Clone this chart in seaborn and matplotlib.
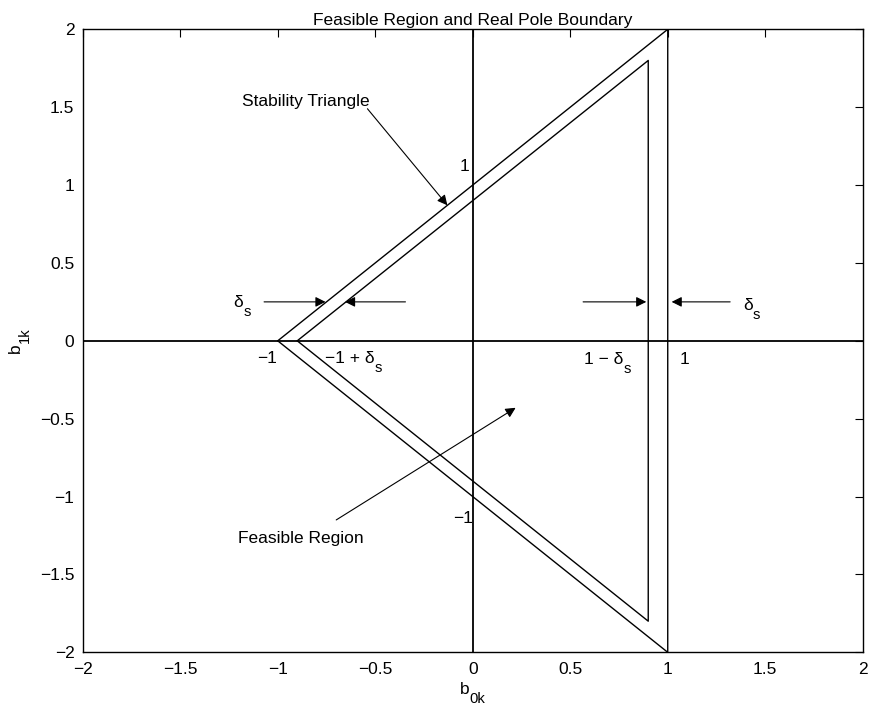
import numpy as np
import pandas as pd
import matplotlib
matplotlib.use("Agg")
import matplotlib.pyplot as plt
from matplotlib.transforms import offset_copy
import seaborn as sns

# Boundary geometry
delta_s = 0.1
outer_b0 = [-1.0, 1.0, 1.0, -1.0]
outer_b1 = [0.0, 2.0, -2.0, 0.0]
inner_b0 = [-1.0 + delta_s, 1.0 - delta_s, 1.0 - delta_s, -1.0 + delta_s]
inner_b1 = [0.0, 2.0 - 2 * delta_s, -2.0 + 2 * delta_s, 0.0]

tick_values = [-2, -1.5, -1, -0.5, 0, 0.5, 1, 1.5, 2]
tick_labels = ["\u22122", "\u22121.5", "\u22121", "\u22120.5", "0", "0.5", "1", "1.5", "2"]

sns.set_style("white")
plt.rcParams["font.family"] = ["Liberation Sans", "DejaVu Sans"]
plt.rcParams["text.color"] = "black"
plt.rcParams["axes.labelcolor"] = "black"
plt.rcParams["xtick.color"] = "black"
plt.rcParams["ytick.color"] = "black"

DPI = 100
FS = 12.5
SUB_FS = FS * 0.85
SUB_DROP = 6.5  # points

fig = plt.figure(figsize=(8.69, 7.13), dpi=DPI)
ax = fig.add_axes([0.0952, 0.0851, 0.8976, 0.8738])

outer = pd.DataFrame({"b0": outer_b0, "b1": outer_b1})
inner = pd.DataFrame({"b0": inner_b0, "b1": inner_b1})
sns.lineplot(data=outer, x="b0", y="b1", sort=False, estimator=None,
             color="black", linewidth=1.0, ax=ax)
sns.lineplot(data=inner, x="b0", y="b1", sort=False, estimator=None,
             color="black", linewidth=1.0, ax=ax)

# Coordinate axes through the origin
ax.axhline(0, color="black", linewidth=1.3)
ax.axvline(0, color="black", linewidth=1.3)

ax.set_xlim(-2, 2)
ax.set_ylim(-2, 2)
ax.set_xticks(tick_values)
ax.set_xticklabels(tick_labels)
ax.set_yticks(tick_values)
ax.set_yticklabels(tick_labels)
ax.tick_params(direction="in", length=6, width=0.8, top=True, right=True,
               labelsize=FS, colors="black", labelcolor="black")
ax.tick_params(axis="x", pad=7)
ax.tick_params(axis="y", pad=6)
ax.set_xlabel("")
ax.set_ylabel("")
for s in ax.spines.values():
    s.set_color("black")
    s.set_linewidth(1.0)

ax.set_title("Feasible Region and Real Pole Boundary", fontsize=FS, pad=3,
             color="black")

renderer = fig.canvas.get_renderer()


def sub_text(x, y, base, sub, transform, rotation=0):
    """Draw base text with a lowered subscript, anchored at the left baseline."""
    t = ax.text(x, y, base, fontsize=FS, transform=transform, ha="left",
                va="baseline", rotation=rotation, rotation_mode="anchor",
                clip_on=False, color="black")
    bb = t.get_window_extent(renderer)
    if rotation == 0:
        dx, dy = bb.width * 72 / DPI, -SUB_DROP
    else:
        dx, dy = SUB_DROP, bb.height * 72 / DPI
    ax.text(x, y, sub, fontsize=SUB_FS,
            transform=offset_copy(transform, fig=fig, x=dx, y=dy, units="points"),
            ha="left", va="baseline", rotation=rotation, rotation_mode="anchor",
            clip_on=False, color="black")


# Axis labels
sub_text(0.4837, -0.067, "b", "0k", ax.transAxes)
sub_text(-0.080, 0.481, "b", "1k", ax.transAxes, rotation=90)

arrow = dict(arrowstyle="-|>", color="black", linewidth=0.8,
             mutation_scale=15, shrinkA=0, shrinkB=0)

ax.text(-1.183, 1.51, "Stability Triangle", fontsize=FS, ha="left", va="baseline")
ax.annotate("", xy=(-0.13, 0.87), xytext=(-0.54, 1.49), arrowprops=arrow)
ax.text(-0.067, 1.092, "1", fontsize=FS, ha="left", va="baseline")

ax.text(-1.205, -1.30, "Feasible Region", fontsize=FS, ha="left", va="baseline")
ax.annotate("", xy=(0.22, -0.43), xytext=(-0.70, -1.15), arrowprops=arrow)
ax.text(-0.103, -1.168, "\u22121", fontsize=FS, ha="left", va="baseline")

# Margin arrows on the left edge
ax.annotate("", xy=(-0.755, 0.25), xytext=(-1.07, 0.25), arrowprops=arrow)
ax.annotate("", xy=(-0.655, 0.25), xytext=(-0.345, 0.25), arrowprops=arrow)
sub_text(-1.226, 0.217, "\u03b4", "s", ax.transData)

# Margin arrows on the right edge
ax.annotate("", xy=(0.89, 0.25), xytext=(0.566, 0.25), arrowprops=arrow)
ax.annotate("", xy=(1.02, 0.25), xytext=(1.32, 0.25), arrowprops=arrow)
sub_text(1.385, 0.20, "\u03b4", "s", ax.transData)

ax.text(-1.105, -0.143, "\u22121", fontsize=FS, ha="left", va="baseline")
sub_text(-0.76, -0.143, "\u22121 + \u03b4", "s", ax.transData)
sub_text(0.569, -0.15, "1 \u2212 \u03b4", "s", ax.transData)
ax.text(1.062, -0.15, "1", fontsize=FS, ha="left", va="baseline")

fig.savefig("out.png", dpi=DPI)
